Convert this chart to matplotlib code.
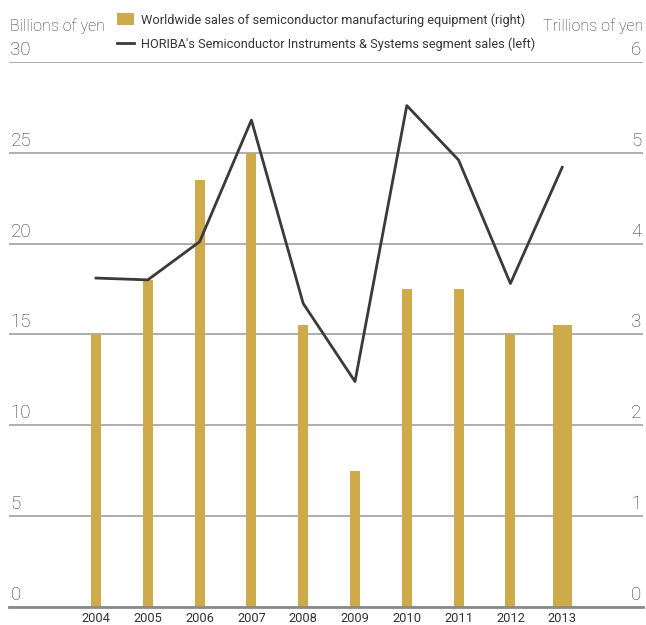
import matplotlib
matplotlib.use("Agg")
import matplotlib.pyplot as plt
from matplotlib.patches import Patch
from matplotlib.lines import Line2D
import numpy as np

years = ["2004", "2005", "2006", "2007", "2008", "2009", "2010", "2011", "2012", "2013"]
equipment_sales_trillion = [3.0, 3.6, 4.7, 5.0, 3.1, 1.5, 3.5, 3.5, 3.0, 3.1]
horiba_sales_billion = [18.1, 18.0, 20.1, 26.8, 16.7, 12.4, 27.6, 24.6, 17.8, 24.2]
left_ticks = [0, 5, 10, 15, 20, 25, 30]
right_ticks = [0, 1, 2, 3, 4, 5, 6]
legend_labels = ["Worldwide sales of semiconductor manufacturing equipment (right)",
                 "HORIBA's Semiconductor Instruments & Systems segment sales (left)"]

BAR = "#CFAA4A"
LINE = "#3A3A3A"
GRID = "#A8A8A8"
TXT = "#363636"
NUM_FONT = ["Roboto", "DejaVu Sans"]
NARROW = ["Roboto", "DejaVu Sans"]

W, H = 646, 625
fig = plt.figure(figsize=(W / 100, H / 100), dpi=100)
ax2 = fig.add_axes([9 / W, 1 - 606.7 / H, (643 - 9) / W, (606.7 - 62) / H])
ax = ax2.twinx()

x = np.arange(len(years))
widths = [0.19] * (len(years) - 1) + [0.37]
ax2.bar(x, equipment_sales_trillion, width=widths, color=BAR, zorder=2)
ax2.set_ylim(0, 6)
ax2.set_xlim(-1.68, 10.56)
ax2.set_yticks(right_ticks)
ax2.grid(axis="y", color=GRID, linewidth=1.3, zorder=0)
ax2.set_axisbelow(True)

ax.plot(x, horiba_sales_billion, color=LINE, linewidth=2.0, zorder=3)
ax.set_ylim(0, 30)
ax.set_yticks(left_ticks)
ax.set_zorder(ax2.get_zorder() + 1)
ax.patch.set_visible(False)

for a in (ax, ax2):
    for s in a.spines.values():
        s.set_visible(False)

ax2.spines["bottom"].set_visible(True)
ax2.spines["bottom"].set_color("#8A8A8A")
ax2.spines["bottom"].set_linewidth(2.0)

ax2.set_xticks(x)
ax2.set_xticklabels(years, family=NARROW, fontsize=9.3, color="#333333")
ax2.tick_params(axis="x", length=0, pad=4)

ax.tick_params(axis="y", which="both", left=False, right=False,
               labelleft=False, labelright=False)
ax2.tick_params(axis="y", which="both", left=False, right=False,
                labelleft=False, labelright=False)

for v in left_ticks:
    ax.annotate(str(v), xy=(0, v), xycoords=("axes fraction", "data"),
                xytext=(1, 2.2), textcoords="offset points", ha="left", va="bottom",
                family=NUM_FONT, fontweight="light", fontsize=13.5, color=TXT)
for v in right_ticks:
    ax2.annotate(str(v), xy=(1, v), xycoords=("axes fraction", "data"),
                 xytext=(-1, 2.2), textcoords="offset points", ha="right", va="bottom",
                 family=NUM_FONT, fontweight="light", fontsize=13.5, color=TXT)

fig.text(10 / W, 1 - 26 / H, "Billions of yen", ha="left", va="center",
         family=NUM_FONT, fontweight="light", fontsize=11.5, color=TXT)
fig.text(643 / W, 1 - 26 / H, "Trillions of yen", ha="right", va="center",
         family=NUM_FONT, fontweight="light", fontsize=11.5, color=TXT)

handles = [Patch(facecolor=BAR, edgecolor="none"),
           Line2D([0], [0], color=LINE, linewidth=2.0)]
leg = fig.legend(handles, legend_labels, loc="upper left",
                 bbox_to_anchor=(112 / W, 1 - 8 / H), frameon=False,
                 prop={"family": NARROW, "size": 9.2}, handlelength=1.3,
                 handleheight=1.0, handletextpad=0.55, labelspacing=0.85,
                 borderaxespad=0, borderpad=0.4)
for t in leg.get_texts():
    t.set_color(TXT)

fig.savefig("out.png", dpi=100)
